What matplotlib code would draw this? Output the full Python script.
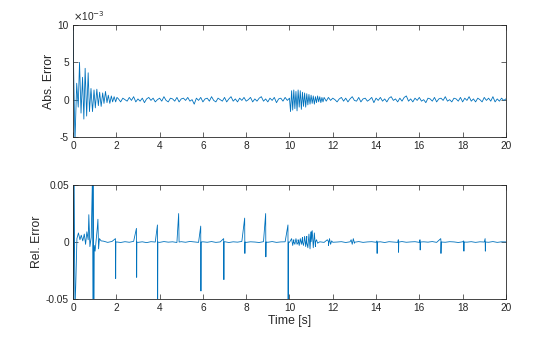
import numpy as np
import matplotlib.pyplot as plt

plt.rcParams['font.family'] = ['Liberation Sans', 'DejaVu Sans']
plt.rcParams['axes.unicode_minus'] = False

# absolute error, in units of 1e-3
t_abs_start = [0, 0.04, 0.09, 0.17, 0.24, 0.30, 0.37, 0.44, 0.50, 0.56, 0.63,
               0.70, 0.76, 0.83, 0.90, 0.97, 1.03, 1.10, 1.17, 1.23, 1.30,
               1.37, 1.43, 1.50, 1.57, 1.63, 1.70, 1.77, 1.83, 1.90, 1.97, 2.03]
abs_start = [9.5, 2.0, -5.6, 2.2, -1.0, 5.0, -1.8, 3.0, -2.6, 4.2, -2.2,
             3.6, -1.6, 1.5, -1.6, 1.3, -1.1, 1.4, -0.8, 1.0, -0.9,
             0.9, -0.5, 1.1, -0.4, 0.6, -0.5, 0.5, -0.3, 0.4, -0.3, 0.3]

# quiet stretch 2.1 .. 9.9 s, every 0.1 s
abs_quiet1 = [0.1, -0.3, 0.2, 0.0, -0.2, 0.3, -0.1, 0.4, -0.3, 0.1,
              -0.2, 0.2, -0.4, 0.1, 0.3, -0.1, 0.2, -0.3, 0.0, 0.2,
              -0.2, 0.4, -0.1, -0.3, 0.2, 0.1, -0.2, 0.3, -0.3, 0.1,
              0.2, -0.1, 0.3, -0.2, 0.0, -0.6, 0.2, -0.1, 0.3, -0.3,
              0.1, 0.2, -0.2, 0.4, -0.1, -0.3, 0.2, 0.0, -0.2, 0.3,
              -0.3, 0.1, 0.4, -0.2, 0.1, -0.3, 0.2, -0.1, 0.3, -0.2,
              0.0, 0.3, -0.3, 0.1, -0.2, 0.2, 0.4, -0.2, 0.1, -0.3,
              0.2, -0.1, 0.3, -0.4, 0.1, 0.2, -0.2, 0.3, -0.1]

# burst 10.0 .. 11.6 s, every 0.05 s
abs_burst = [0.2, -1.6, 1.2, -1.4, 1.3, -1.2, 1.1, -1.5, 1.3, -1.0, 1.2,
             -1.3, 1.0, -0.9, 0.9, -1.0, 0.8, -0.7, 0.7, -0.6, 0.6, -0.5,
             0.5, -0.6, 0.4, -0.4, 0.5, -0.3, 0.4, -0.4, 0.3, -0.3, 0.3]

# quiet stretch 11.7 .. 20.0 s, every 0.1 s
abs_quiet2 = [-0.2, 0.3, -0.1, 0.2, 0.0, -0.3, 0.1, 0.3, -0.2, 0.2,
              -0.3, 0.1, 0.4, -0.1, -0.2, 0.3, -0.3, 0.1, 0.2, -0.2,
              0.0, 0.3, -0.4, 0.2, -0.1, 0.3, -0.2, 0.1, -0.3, 0.2,
              0.4, -0.1, 0.1, -0.3, 0.2, -0.2, 0.3, 0.5, -0.2, 0.1,
              -0.3, 0.2, -0.1, 0.3, -0.2, 0.0, -0.4, 0.2, 0.1, -0.2,
              0.3, -0.3, 0.1, 0.2, -0.1, 0.4, -0.2, 0.0, -0.3, 0.2,
              0.1, -0.2, 0.3, -0.3, 0.2, -0.1, 0.4, -0.2, 0.1, -0.3,
              0.2, 0.0, -0.3, 0.3, -0.1, 0.2, -0.2, 0.4, -0.3, 0.1,
              -0.2, 0.2, -0.1, 0.1]

# relative error
t_rel_start = [0, 0.02, 0.05, 0.09, 0.13, 0.18, 0.25, 0.32, 0.38, 0.45,
               0.52, 0.58, 0.64, 0.70, 0.73, 0.78, 0.84, 0.90, 0.92, 0.94,
               0.96, 0.98, 1.02, 1.08, 1.12, 1.15, 1.18, 1.22, 1.30]
rel_start = [0.06, -0.06, 0.06, -0.06, -0.035, 0.003, 0.008, 0.002, 0.006,
             0.001, 0.007, -0.002, 0.009, 0.002, 0.024, -0.004, 0.004, 0.06,
             -0.06, 0.06, -0.06, -0.003, -0.008, 0.004, 0.012, 0.02, -0.006,
             0.003, 0.001]

# baseline 1.4 .. 20.0 s, every 0.2 s
rel_quiet = [0.0008, -0.0003, 0.0005, 0.0001, -0.0004, 0.0003, -0.0002,
             0.0006, -0.0003, 0.0002, -0.0005, 0.0003, 0.0000, -0.0003,
             0.0004, -0.0001, 0.0002, -0.0004, 0.0003, -0.0002, 0.0005,
             0.0001, -0.0003, 0.0002, -0.0002, 0.0004, -0.0003, 0.0001,
             0.0003, -0.0004, 0.0002, -0.0001, 0.0005, -0.0003, 0.0002,
             0.0000, -0.0004, 0.0003, -0.0002, 0.0004, -0.0003, 0.0001,
             0.0002, -0.0003, 0.0004, -0.0002, 0.0001, -0.0004, 0.0003,
             -0.0001, 0.0002, -0.0003, 0.0005, -0.0002, 0.0000, 0.0003,
             -0.0004, 0.0002, -0.0002, 0.0004, -0.0003, 0.0001, 0.0003,
             -0.0002, 0.0002, -0.0004, 0.0003, 0.0000, -0.0003, 0.0004,
             -0.0002, 0.0001, 0.0003, -0.0003, 0.0002, -0.0001, 0.0004,
             -0.0003, 0.0002, -0.0002, 0.0003, 0.0001, -0.0004, 0.0002,
             -0.0001, 0.0003, -0.0003, 0.0002, 0.0000, -0.0002, 0.0004,
             -0.0003, 0.0002, 0.0001]

# once-per-second spikes
spike_t = [1.97, 2.94, 3.91, 4.89, 5.91, 6.97, 7.94, 8.91, 9.94,
           14.05, 15.04, 16.04, 17.0, 18.06, 19.05]
spike_up = [0.003, 0.012, 0.015, 0.025, 0.014, 0.003, 0.021, 0.025, 0.015,
            0.001, 0.002, 0.002, 0.003, 0.001, 0.003]
spike_down = [-0.032, -0.031, -0.06, 0.013, -0.043, -0.033, -0.010, -0.013,
              -0.06, -0.010, -0.009, -0.007, -0.010, -0.008, -0.008]

# bursts after 10 s, every 0.05 s
t_rel_b1 = 10.1
rel_burst1 = [0.003, -0.003, 0.002, -0.002, 0.003, -0.002, 0.002, -0.003,
              0.003, -0.002, 0.004, -0.003, 0.005, -0.004, 0.005, -0.005,
              0.007, -0.006, 0.009, 0.010, -0.005, 0.008, -0.004, 0.002,
              -0.001]
t_rel_b2 = 11.75
rel_burst2 = [0.002, -0.003, 0.003, -0.002, 0.001]
t_rel_b3 = 12.85
rel_burst3 = [0.002, -0.002, 0.003, -0.001]

# assemble absolute error series
t1 = np.array(t_abs_start)
t2 = np.round(2.1 + 0.1 * np.arange(len(abs_quiet1)), 3)
t3 = np.round(10.0 + 0.05 * np.arange(len(abs_burst)), 3)
t4 = np.round(11.7 + 0.1 * np.arange(len(abs_quiet2)), 3)
t_abs = np.concatenate([t1, t2, t3, t4])
v_abs = np.concatenate([abs_start, abs_quiet1, abs_burst, abs_quiet2])

# assemble relative error series, sorted by time
tq = 1.4 + 0.2 * np.arange(len(rel_quiet))
ts = np.array(spike_t)
t_sp = np.concatenate([ts - 0.01, ts, ts + 0.01])
v_sp = np.concatenate([spike_up, spike_down, np.zeros(len(ts))])
tb1 = t_rel_b1 + 0.05 * np.arange(len(rel_burst1))
tb2 = t_rel_b2 + 0.05 * np.arange(len(rel_burst2))
tb3 = t_rel_b3 + 0.05 * np.arange(len(rel_burst3))
t_rel = np.concatenate([t_rel_start, tq, t_sp, tb1, tb2, tb3])
v_rel = np.concatenate([rel_start, rel_quiet, v_sp, rel_burst1, rel_burst2, rel_burst3])
order = np.argsort(t_rel, kind='stable')
t_rel, v_rel = t_rel[order], v_rel[order]

line_col = '#0072BD'
ax_col = '#262626'

fig = plt.figure(figsize=(5.6, 3.37), dpi=100)
ax1 = fig.add_axes([0.1304, 0.5935, 0.773, 0.3323])
ax2 = fig.add_axes([0.1304, 0.1128, 0.773, 0.338])

ax1.plot(t_abs, v_abs, color=line_col, lw=0.6)
ax1.set_xlim(0, 20)
ax1.set_ylim(-5, 10)
ax1.set_yticks([-5, 0, 5, 10])
ax1.set_ylabel('Abs. Error', fontsize=8.8, color=ax_col, labelpad=2)
ax1.text(0, 1.015, r'$\times$10$^{-3}$', transform=ax1.transAxes,
         fontsize=7.3, color=ax_col, ha='left', va='bottom')

ax2.plot(t_rel, v_rel, color=line_col, lw=0.6)
ax2.set_xlim(0, 20)
ax2.set_ylim(-0.05, 0.05)
ax2.set_yticks([-0.05, 0, 0.05])
ax2.set_yticklabels(['-0.05', '0', '0.05'])
ax2.set_ylabel('Rel. Error', fontsize=8.8, color=ax_col, labelpad=2)
ax2.set_xlabel('Time [s]', fontsize=8.8, color=ax_col, labelpad=1)

for ax in (ax1, ax2):
    ax.set_xticks(np.arange(0, 21, 2))
    ax.tick_params(direction='in', length=3.5, width=0.5, top=True,
                   right=True, labelsize=7.3, colors=ax_col, pad=3)
    for s in ax.spines.values():
        s.set_linewidth(0.6)
        s.set_color(ax_col)

fig.savefig('out.png', dpi=100)
